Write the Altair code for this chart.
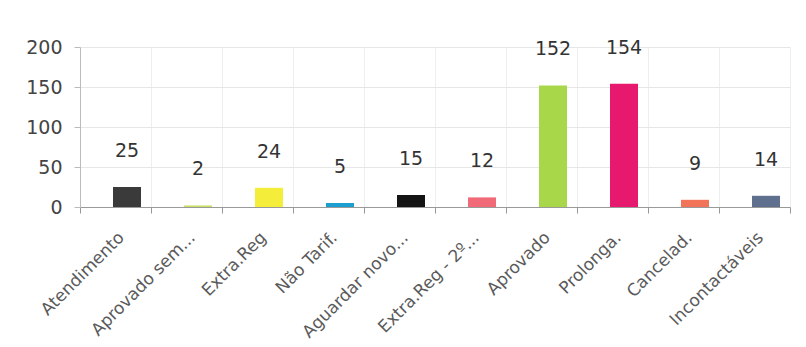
import altair as alt
import pandas as pd

categories = ["Atendimento", "Aprovado sem...", "Extra.Reg", "Não Tarif.", "Aguardar novo...",
              "Extra.Reg - 2º...", "Aprovado", "Prolonga.", "Cancelad.", "Incontactáveis"]
values = [25, 2, 24, 5, 15, 12, 152, 154, 9, 14]
colors = ["#3a3a3a", "#c9e06a", "#f4ee3a", "#1c9fd0", "#141414",
          "#f06a78", "#a8d84a", "#e6196e", "#f27458", "#5f6f8e"]
y_ticks = [0, 50, 100, 150, 200]

df = pd.DataFrame({"cat": categories, "val": values, "col": colors})

x = alt.X("cat:N", sort=categories, title=None,
          scale=alt.Scale(paddingInner=0, paddingOuter=0),
          axis=alt.Axis(labelAngle=-45, labelFontSize=17, labelColor="#5a5a5a",
                        labelFont="DejaVu Sans", domainColor="#999", tickColor="#999",
                        tickSize=6, labelPadding=16, labelOffset=0, grid=True, gridColor="#eeeeee",
                        tickBand="extent", labelOverlap=False, labelLimit=300))
y = alt.Y("val:Q", title=None,
          scale=alt.Scale(domain=[0, 200]),
          axis=alt.Axis(values=y_ticks, labelFontSize=19, labelColor="#444",
                        labelFont="DejaVu Sans", domainColor="#bbb", tickColor="#bbb",
                        tickSize=6, labelPadding=12, gridColor="#e6e6e6",
                        labelOverlap=False))

base = alt.Chart(df).encode(x=x, y=y)

bars = base.mark_bar(size=28).encode(
    color=alt.Color("col:N", scale=None),
    xOffset=alt.value(47)
)
labels = base.mark_text(dy=-36, fontSize=19, color="#333", font="DejaVu Sans").encode(
    text="val:Q",
    xOffset=alt.value(47)
)

chart = (bars + labels).properties(
    width=710, height=160,
    autosize=alt.AutoSizeParams(type="none"),
    padding={"left": 72, "top": 39, "right": 5, "bottom": 140},
    background="white"
).configure_view(stroke=None)

chart.save("out.html", embed_options={"renderer": "svg", "actions": False})
